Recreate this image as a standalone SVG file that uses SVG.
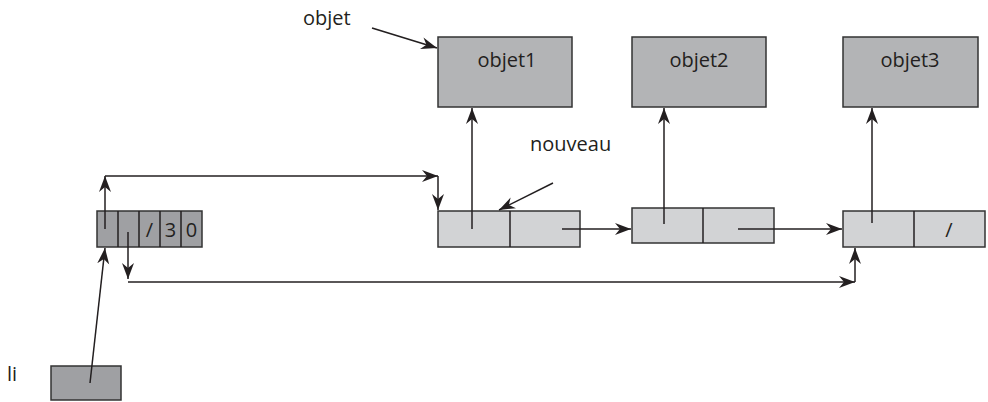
<svg xmlns="http://www.w3.org/2000/svg" width="988" height="402" viewBox="0 0 988 402">
<defs>
<marker id="ah" markerUnits="userSpaceOnUse" markerWidth="20" markerHeight="14" viewBox="-16 -7 20 14" refX="0" refY="0" orient="auto">
<path d="M0,0 L-16,-6 L-11,0 L-16,6 Z" fill="#231f20"/>
</marker>
<style>
.t{font-family:"Open Sans","Liberation Sans",sans-serif;font-size:20px;fill:#231f20}
.obj{fill:#b3b4b6;stroke:#333;stroke-width:1.5}
.dark{fill:#9fa0a3;stroke:#333;stroke-width:1.5}
.nd{fill:#d2d3d5;stroke:#333;stroke-width:1.5}
.c{stroke:#231f20;stroke-width:1.5;fill:none}
.a{marker-end:url(#ah)}
</style>
</defs>
<g id="label-objet"><text class="t" x="303" y="25">objet</text></g>
<g id="label-nouveau"><text class="t" x="530" y="151">nouveau</text></g>
<g id="label-li"><text class="t" x="7" y="381">li</text></g>
<g id="objet1"><rect class="obj" x="438" y="37" width="134" height="70"/><text class="t" x="507" y="67" text-anchor="middle">objet1</text></g>
<g id="objet2"><rect class="obj" x="632" y="37" width="134" height="70"/><text class="t" x="699" y="67" text-anchor="middle">objet2</text></g>
<g id="objet3"><rect class="obj" x="843" y="37" width="135" height="70"/><text class="t" x="910" y="67" text-anchor="middle">objet3</text></g>
<g id="tete">
<rect class="dark" x="97" y="211" width="105" height="36"/>
<path class="c" d="M118,211V247M139,211V247M160,211V247M181,211V247"/>
<text class="t" x="149.5" y="237" text-anchor="middle">/</text>
<text class="t" x="170.5" y="237" text-anchor="middle">3</text>
<text class="t" x="191.5" y="237" text-anchor="middle">0</text>
</g>
<g id="li"><rect class="dark" x="51" y="366" width="70" height="34"/></g>
<g id="noeud1"><rect class="nd" x="438" y="211" width="142" height="36"/><path class="c" d="M510,211V247"/></g>
<g id="noeud2"><rect class="nd" x="632" y="208" width="142" height="35"/><path class="c" d="M703,208V243"/></g>
<g id="noeud3"><rect class="nd" x="843" y="211" width="142" height="36"/><path class="c" d="M914,211V247"/><text class="t" x="949" y="237" text-anchor="middle">/</text></g>
<g id="connectors">
<line class="c a" x1="372" y1="28" x2="437" y2="48"/>
<line class="c a" x1="553" y1="183" x2="499" y2="210"/>
<line class="c a" x1="105" y1="229" x2="105" y2="176"/>
<line class="c a" x1="105" y1="176" x2="438" y2="176"/>
<line class="c a" x1="438" y1="176" x2="438" y2="210"/>
<line class="c a" x1="128" y1="232" x2="128" y2="279"/>
<line class="c a" x1="128" y1="282" x2="855" y2="282"/>
<line class="c a" x1="855" y1="282" x2="855" y2="248"/>
<line class="c a" x1="90" y1="383" x2="105" y2="248"/>
<line class="c a" x1="472" y1="229" x2="472" y2="108"/>
<line class="c a" x1="664" y1="224" x2="664" y2="108"/>
<line class="c a" x1="872" y1="223" x2="872" y2="108"/>
<line class="c a" x1="562" y1="229" x2="631" y2="229"/>
<line class="c a" x1="738" y1="229" x2="842" y2="229"/>
</g>
</svg>
